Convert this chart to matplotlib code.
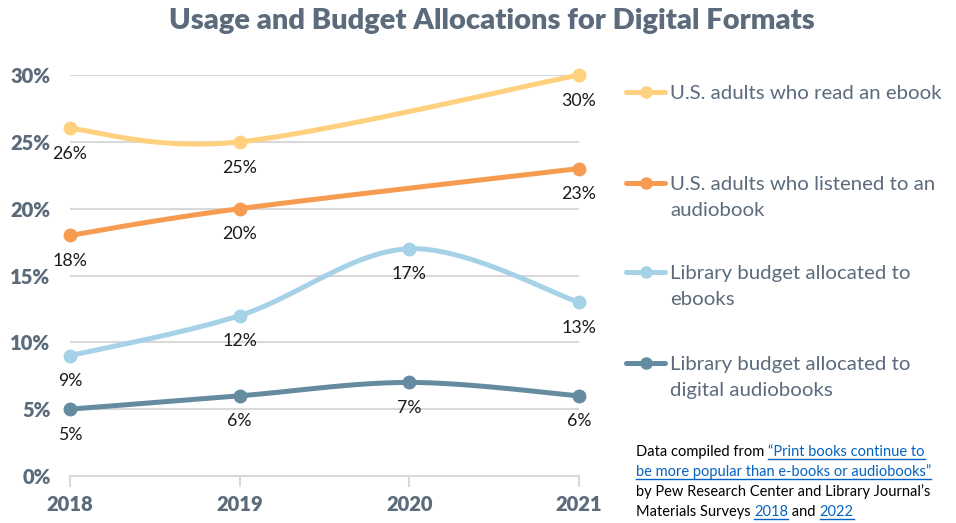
import numpy as np
import matplotlib
matplotlib.use("Agg")
import matplotlib.pyplot as plt
from matplotlib.lines import Line2D
from matplotlib.ticker import PercentFormatter

plt.rcParams["font.family"] = ["Lato", "DejaVu Sans"]

# Data
years = [2018, 2019, 2020, 2021]
year_labels = ["2018", "2019", "2020", "2021"]
ebook_readers = [26, 25, None, 30]
audiobook_listeners = [18, 20, None, 23]
library_ebooks = [9, 12, 17, 13]
library_audiobooks = [5, 6, 7, 6]

series_names = [
    "U.S. adults who read an ebook",
    "U.S. adults who listened to an\naudiobook",
    "Library budget allocated to\nebooks",
    "Library budget allocated to\ndigital audiobooks",
]
series_values = [ebook_readers, audiobook_listeners, library_ebooks, library_audiobooks]
colors = ["#FFD07E", "#F79B51", "#A5D2E6", "#658BA0"]
text_gray = "#5B6B7C"
link_blue = "#0563C1"


def smooth(xs, ys, n=40):
    # Catmull-Rom style bezier, like spreadsheet "smoothed line"
    pts = np.array(list(zip(xs, ys)), dtype=float)
    out = []
    for i in range(len(pts) - 1):
        p0 = pts[max(i - 1, 0)]
        p1 = pts[i]
        p2 = pts[i + 1]
        p3 = pts[min(i + 2, len(pts) - 1)]
        c1 = p1 + (p2 - p0) / 6
        c2 = p2 - (p3 - p1) / 6
        t = np.linspace(0, 1, n)[:, None]
        seg = ((1 - t) ** 3) * p1 + 3 * ((1 - t) ** 2) * t * c1 + 3 * (1 - t) * t ** 2 * c2 + t ** 3 * p2
        out.append(seg if i == 0 else seg[1:])
    curve = np.vstack(out)
    return curve[:, 0], curve[:, 1]


W, H = 956, 523
fig = plt.figure(figsize=(W / 100, H / 100), dpi=100)
ax = fig.add_axes([70 / W, (H - 476) / H, (579 - 70) / W, (476 - 75) / H])

for vals, col in zip(series_values, colors):
    xs = [x for x, v in zip(years, vals) if v is not None]
    ys = [v for v in vals if v is not None]
    cx, cy = smooth(xs, ys)
    ax.plot(cx, cy, color=col, lw=3.6, solid_capstyle="round", clip_on=False, zorder=3)
    ax.plot(xs, ys, "o", color=col, ms=9, clip_on=False, zorder=4)
    for x, y in zip(xs, ys):
        ax.annotate(f"{y}%", (x, y), xytext=(0, -18.5), textcoords="offset points",
                    ha="center", va="center", fontsize=12.8, color="#1a1a1a", zorder=5)

ax.set_xlim(2018, 2021)
ax.set_ylim(0, 30)
ax.set_yticks([0, 5, 10, 15, 20, 25, 30])
ax.yaxis.set_major_formatter(PercentFormatter(decimals=0))
ax.set_xticks(years)
ax.set_xticklabels(year_labels)
ax.grid(axis="y", color="#D9D9D9", lw=1.5)
ax.set_axisbelow(True)
for s in ["top", "right", "left"]:
    ax.spines[s].set_visible(False)
ax.spines["bottom"].set_color("#D9D9D9")
ax.spines["bottom"].set_linewidth(1.5)
ax.tick_params(axis="y", length=0, pad=14, labelsize=14.5, labelcolor=text_gray)
ax.tick_params(axis="x", length=8, width=1.5, color="#D9D9D9", pad=6, labelsize=14.5, labelcolor=text_gray)
for lbl in ax.get_xticklabels() + ax.get_yticklabels():
    lbl.set_fontweight("heavy")

fig.text(492 / W, 1 - 21 / H, "Usage and Budget Allocations for Digital Formats",
         ha="center", va="center", fontsize=21, fontweight="heavy", color=text_gray)

# Legend drawn by hand
legend_y = [92, 183, 272, 363]
for name, col, y in zip(series_names, colors, legend_y):
    yf = 1 - y / H
    fig.add_artist(Line2D([626 / W, 665 / W], [yf, yf], color=col, lw=3.6,
                          solid_capstyle="round", transform=fig.transFigure))
    fig.add_artist(Line2D([645.5 / W], [yf], marker="o", color=col, ms=8,
                          transform=fig.transFigure))
    fig.text(670 / W, yf + 7 / H, name, ha="left", va="top", fontsize=14.7,
             color=text_gray, linespacing=1.62)

# Source note with links
fig.canvas.draw()
renderer = fig.canvas.get_renderer()
note_lines = [
    [("Data compiled from ", "black", False), ("\u201cPrint books continue to", link_blue, True)],
    [("be more popular than e-books or audiobooks\u201d", link_blue, True)],
    [("by Pew Research Center and Library Journal\u2019s", "black", False)],
    [("Materials Surveys ", "black", False), ("2018", link_blue, True),
     (" and ", "black", False), ("2022", link_blue, True)],
]
note_base = [456, 476, 496, 516]
for parts, yb in zip(note_lines, note_base):
    x = 636
    for txt, col, ul in parts:
        t = fig.text(x / W, 1 - yb / H, txt, ha="left", va="baseline",
                     fontsize=10.5, color=col)
        bb = t.get_window_extent(renderer)
        if ul:
            fig.add_artist(Line2D([x / W, (x + bb.width) / W], [1 - (yb + 3) / H] * 2,
                                  color=col, lw=1, transform=fig.transFigure))
        x += bb.width

fig.savefig("out.png", dpi=100)
